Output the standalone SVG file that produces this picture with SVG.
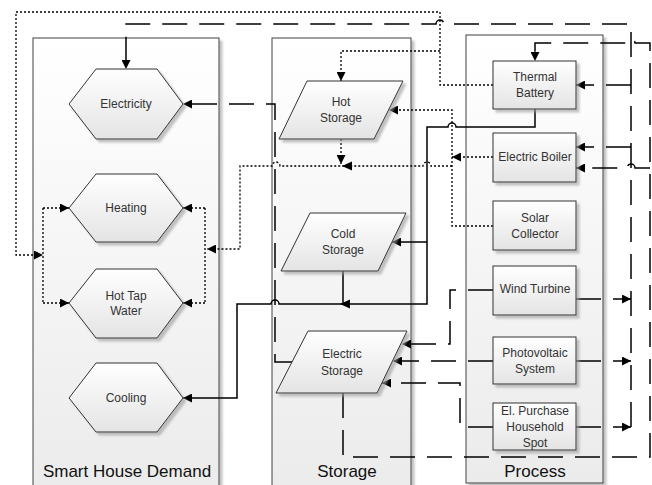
<svg xmlns="http://www.w3.org/2000/svg" width="652" height="485" viewBox="0 0 652 485">
<defs>
<linearGradient id="gc" x1="0" y1="0" x2="0" y2="1"><stop offset="0" stop-color="#ffffff"/><stop offset="1" stop-color="#ebebeb"/></linearGradient>
<linearGradient id="gn" x1="0" y1="0" x2="0" y2="1"><stop offset="0" stop-color="#ffffff"/><stop offset="1" stop-color="#e4e4e4"/></linearGradient>
<filter id="sh" x="-10%" y="-10%" width="130%" height="130%"><feDropShadow dx="3" dy="3" stdDeviation="1" flood-color="#9a9a9a" flood-opacity="0.6"/></filter>
<marker id="ah" viewBox="0 0 10 10" refX="10" refY="5" markerWidth="10" markerHeight="9" orient="auto" markerUnits="userSpaceOnUse"><path d="M0,0 L10,5 L0,10 z" fill="#000"/></marker>
</defs>
<style>
.cont{fill:url(#gc);stroke:#404040;stroke-width:1;filter:url(#sh)}
.node{fill:url(#gn);stroke:#333;stroke-width:1;filter:url(#sh)}
.t{font-family:"Liberation Sans",Arial,sans-serif;font-size:12px;fill:#333;text-anchor:middle}
.ct{font-family:"Liberation Sans",Arial,sans-serif;font-size:17px;fill:#111;text-anchor:middle}
.solid{fill:none;stroke:#000;stroke-width:1.5}
.dash{fill:none;stroke:#000;stroke-width:1.5;stroke-dasharray:25 12}
.dot{fill:none;stroke:#000;stroke-width:1.3;stroke-dasharray:2 2}
.arr{marker-end:url(#ah)}
</style>

<g id="containers">
<g id="smart-house-demand"><rect class="cont" x="33" y="38" width="186" height="460"/><text class="ct" x="127" y="477">Smart House Demand</text></g>
<g id="storage"><rect class="cont" x="272" y="38" width="139" height="460"/><text class="ct" x="347" y="477">Storage</text></g>
<g id="process"><rect class="cont" x="466" y="35" width="137" height="448"/><text class="ct" x="535" y="477">Process</text></g>
</g>

<g id="connectors">
<!-- dotted: thermal battery to demand and hot storage -->
<path class="dot arr" d="M493,85 H440 V12 H16 V255 H43"/>
<path class="dot arr" d="M440,51 H341 V81"/>
<path class="dot" d="M43,208 V303"/>
<path class="dot arr" d="M43,208 H69"/>
<path class="dot arr" d="M43,303 H69"/>
<path class="dot" d="M205,208 V303"/>
<path class="dot arr" d="M205,208 H183"/>
<path class="dot arr" d="M205,303 H183"/>
<!-- dotted: solar collector to hot storage -->
<path class="dot arr" d="M493,226 H452 V110 H389"/>
<path class="dot arr" d="M493,157 H452"/>
<path class="dot arr" d="M452,166 H431 A4,4 0 0 0 423,166 H280 A4,4 0 0 0 272,166 H240 V249 H207"/>
<path class="dot arr" d="M341,139 V164"/>
<polygon points="342,166 352,161.5 352,170.5" fill="#000"/>
<!-- dashed: electric storage to electricity -->
<path class="dash arr" d="M292,362 H275 V104 H183"/>
<!-- dashed: electricity bus -->
<path class="dash arr" d="M631,427 V24 H444 A4,4 0 0 0 436,24 H126 V69"/>
<path class="dash arr" d="M631,85 H576"/>
<path class="dash arr" d="M631,147 H576"/>
<path class="dash arr" d="M576,299 H631"/>
<path class="dash arr" d="M576,361 H631"/>
<path class="dash arr" d="M576,427 H631"/>
<!-- dashed: electric storage to thermal battery / boiler -->
<path class="dash arr" d="M343,393 V457 H650 V43 H635 A4,4 0 0 0 627,43 H535 V61"/>
<path class="dash arr" d="M650,168 H635 A4,4 0 0 0 627,168 H576"/>
<!-- dashed: producers to electric storage -->
<path class="dash arr" d="M493,290 H450 V344 H402"/>
<path class="dash arr" d="M493,361 H393"/>
<path class="dash arr" d="M493,427 H460 V383 H382"/>
<!-- solid: thermal battery cold side -->
<path class="solid arr" d="M535,109 V127 H456 A4,4 0 0 0 448,127 H427 V304 H279 A4,4 0 0 0 271,304 H237 V398 H183"/>
<path class="solid arr" d="M427,242 H392"/>
<path class="solid" d="M343,271 V304"/>
<polygon points="340,304 350,299.5 350,308.5" fill="#000"/>
</g>

<g id="electricity"><polygon class="node" points="69,104 96,69 157,69 183,104 157,139 96,139"/><text class="t" x="126" y="108">Electricity</text></g>
<g id="heating"><polygon class="node" points="69,208 96,174 157,174 183,208 157,242 96,242"/><text class="t" x="126" y="212">Heating</text></g>
<g id="hot-tap-water"><polygon class="node" points="69,303 96,269 157,269 183,303 157,338 96,338"/><text class="t" x="126" y="300">Hot Tap</text><text class="t" x="126" y="315">Water</text></g>
<g id="cooling"><polygon class="node" points="69,398 96,363 157,363 183,398 157,432 96,432"/><text class="t" x="126" y="402">Cooling</text></g>

<g id="hot-storage"><polygon class="node" points="307,81 403,81 374,139 279,139"/><text class="t" x="341" y="106">Hot</text><text class="t" x="341" y="122">Storage</text></g>
<g id="cold-storage"><polygon class="node" points="310,213 406,213 378,271 281,271"/><text class="t" x="343" y="238">Cold</text><text class="t" x="343" y="254">Storage</text></g>
<g id="electric-storage"><polygon class="node" points="308,331 407,331 377,393 276,393"/><text class="t" x="342" y="358">Electric</text><text class="t" x="342" y="375">Storage</text></g>

<g id="thermal-battery"><rect class="node" x="493" y="61" width="83" height="48"/><text class="t" x="535" y="81">Thermal</text><text class="t" x="535" y="97">Battery</text></g>
<g id="electric-boiler"><rect class="node" x="493" y="133" width="83" height="49"/><text class="t" x="535" y="161">Electric Boiler</text></g>
<g id="solar-collector"><rect class="node" x="493" y="201" width="83" height="49"/><text class="t" x="535" y="222">Solar</text><text class="t" x="535" y="238">Collector</text></g>
<g id="wind-turbine"><rect class="node" x="493" y="266" width="83" height="49"/><text class="t" x="535" y="293">Wind Turbine</text></g>
<g id="photovoltaic-system"><rect class="node" x="493" y="337" width="83" height="47"/><text class="t" x="535" y="357">Photovoltaic</text><text class="t" x="535" y="373">System</text></g>
<g id="el-purchase"><rect class="node" x="493" y="403" width="83" height="47"/><text class="t" x="535" y="415">El. Purchase</text><text class="t" x="535" y="431">Household</text><text class="t" x="535" y="447">Spot</text></g>
</svg>
